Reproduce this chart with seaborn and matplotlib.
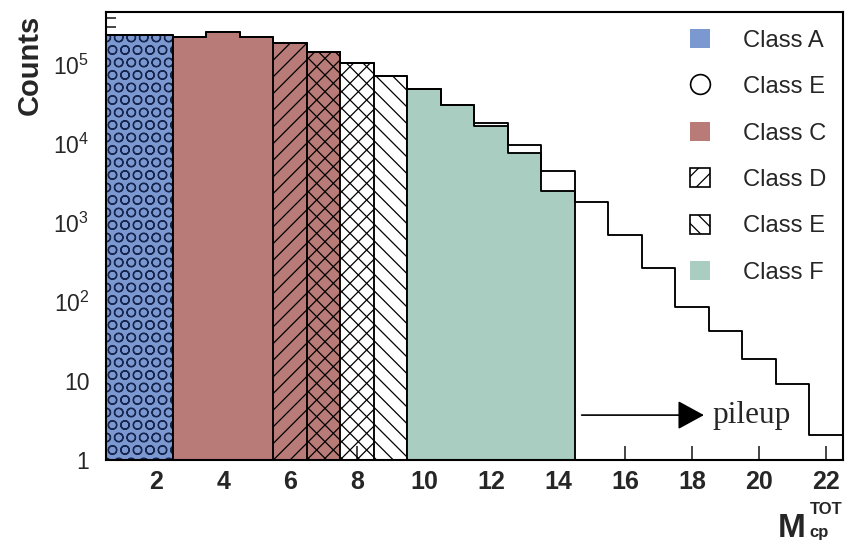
import matplotlib
matplotlib.use("Agg")
import matplotlib.pyplot as plt
import seaborn as sns
from matplotlib.patches import Patch
from matplotlib.lines import Line2D
from matplotlib.ticker import FixedLocator, FixedFormatter, LogLocator, NullFormatter

# ---- data -------------------------------------------------------------
multiplicity = list(range(1, 23))
total_counts = [2.4e5, 2.4e5, 2.25e5, 2.6e5, 2.25e5, 1.9e5, 1.46e5, 1.07e5,
                7.3e4, 5.0e4, 3.1e4, 1.85e4, 9.7e3, 4.5e3, 1.85e3, 710,
                270, 86, 43, 19, 9.2, 2.1]

class_a_bins = [1, 2]
class_a_counts = [2.4e5, 2.4e5]
class_b_bins = [1, 2]
class_b_counts = [2.4e5, 2.4e5]
class_c_bins = [3, 4, 5, 6, 7]
class_c_counts = [2.25e5, 2.6e5, 2.25e5, 1.9e5, 1.46e5]
class_d_bins = [6, 7, 8]
class_d_counts = [1.9e5, 1.46e5, 1.07e5]
class_e_bins = [7, 8, 9]
class_e_counts = [1.46e5, 1.07e5, 7.3e4]
class_f_bins = [10, 11, 12, 13, 14]
class_f_counts = [5.0e4, 3.1e4, 1.7e4, 7.7e3, 2.55e3]

class_labels = ["Class A", "Class E", "Class C", "Class D", "Class E", "Class F"]

x_ticks = [2, 4, 6, 8, 10, 12, 14, 16, 18, 20, 22]
y_ticks = [1, 10, 1e2, 1e3, 1e4, 1e5]
y_tick_labels = ["1", "10", "10$^{2}$", "10$^{3}$", "10$^{4}$", "10$^{5}$"]

# ---- style ------------------------------------------------------------
sns.set_style("ticks")
plt.rcParams["font.family"] = ["Liberation Sans", "DejaVu Sans"]
plt.rcParams["mathtext.fontset"] = "custom"
plt.rcParams["mathtext.rm"] = "Liberation Sans"
plt.rcParams["mathtext.it"] = "Liberation Sans"
plt.rcParams["mathtext.bf"] = "Liberation Sans:bold"
plt.rcParams["hatch.linewidth"] = 0.6

BLUE = "#7b98d0"
NAVY = "#17264f"
RED = "#b87b77"
GREEN = "#a9cdc1"
LW = 0.9

fig = plt.figure(figsize=(845 / 150, 543 / 150), dpi=150)
ax = fig.add_axes([0.1254, 0.1529, 0.8722, 0.825])
ax.set_yscale("log")


def draw_class(bins, counts, color, **kws):
    sns.histplot(x=bins, weights=counts, discrete=True, element="step",
                 fill=True, alpha=1, color=color, ax=ax, **kws)


draw_class(class_a_bins, class_a_counts, BLUE, facecolor=BLUE,
           edgecolor="black", linewidth=LW)
draw_class(class_b_bins, class_b_counts, NAVY, facecolor="none",
           edgecolor=NAVY, linewidth=0, hatch="OO")
draw_class(class_c_bins, class_c_counts, RED, facecolor=RED,
           edgecolor="black", linewidth=LW)
draw_class(class_d_bins, class_d_counts, "black", facecolor="none",
           edgecolor="black", linewidth=LW, hatch="///")
draw_class(class_e_bins, class_e_counts, "black", facecolor="none",
           edgecolor="black", linewidth=LW, hatch="\\\\\\")
draw_class(class_f_bins, class_f_counts, GREEN, facecolor=GREEN,
           edgecolor="black", linewidth=LW)

# total multiplicity distribution as an open step outline
sns.histplot(x=multiplicity, weights=total_counts, discrete=True,
             element="step", fill=False, color="black", linewidth=LW, ax=ax)

# ---- axes ---------------------------------------------------------------
ax.set_xlim(0.5, 22.5)
ax.set_ylim(1, 4.7e5)
ax.set_xlabel("")
ax.set_ylabel("")
ax.set_axisbelow(True)

ax.xaxis.set_major_locator(FixedLocator(x_ticks))
ax.yaxis.set_major_locator(FixedLocator(y_ticks))
ax.yaxis.set_major_formatter(FixedFormatter(y_tick_labels))
ax.yaxis.set_minor_locator(LogLocator(base=10, subs=range(2, 10)))
ax.yaxis.set_minor_formatter(NullFormatter())

ax.tick_params(axis="x", which="major", direction="in", length=6.7, width=0.8,
               pad=4.8, labelsize=12, top=False)
ax.tick_params(axis="y", which="major", direction="in", length=6.7, width=0.8,
               pad=8.0, labelsize=11, right=False)
ax.tick_params(axis="y", which="minor", direction="in", length=5.0, width=0.8,
               right=False)
for lab in ax.get_xticklabels():
    lab.set_fontweight("bold")
for sp in ax.spines.values():
    sp.set_visible(True)
    sp.set_linewidth(1.0)
    sp.set_color("black")

# pileup marker
ax.annotate("", xy=(18.35, 3.7), xytext=(14.7, 3.7),
            arrowprops=dict(arrowstyle="-|>,head_length=0.55,head_width=0.3",
                            mutation_scale=20, color="black", lw=0.8,
                            shrinkA=0, shrinkB=0))
ax.text(18.6, 2.95, "pileup", fontsize=15, va="baseline", ha="left",
        family=["Liberation Serif", "DejaVu Serif"])

# legend
handles = [
    Patch(facecolor=BLUE, edgecolor="none"),
    Line2D([], [], marker="o", linestyle="none", markersize=9.5,
           markerfacecolor="white", markeredgecolor="black",
           markeredgewidth=0.8),
    Patch(facecolor=RED, edgecolor="none"),
    Patch(facecolor="white", edgecolor="black", hatch="///", linewidth=0.8),
    Patch(facecolor="white", edgecolor="black", hatch="\\\\\\", linewidth=0.8),
    Patch(facecolor=GREEN, edgecolor="none"),
]
ax.legend(handles, class_labels, loc="upper left",
          bbox_to_anchor=(690 / 845, 1 - 29 / 543),
          bbox_transform=fig.transFigure, frameon=False, fontsize=11.4,
          handlelength=0.85, handleheight=0.85, handletextpad=1.4,
          labelspacing=1.0, borderpad=0, borderaxespad=0)

# axis titles
fig.text(30 / 845, 1 - 15 / 543, "Counts", rotation=90, ha="center", va="top",
         fontsize=14, fontweight="bold")
fig.text(778 / 845, 1 - 537 / 543, "M", ha="left", va="baseline",
         fontsize=16, fontweight="bold")
fig.text(810 / 845, 1 - 514 / 543, "TOT", ha="left", va="baseline",
         fontsize=8, fontweight="bold")
fig.text(809 / 845, 1 - 537 / 543, "cp", ha="left", va="baseline",
         fontsize=8, fontweight="bold")

fig.savefig("out.png", dpi=150)
